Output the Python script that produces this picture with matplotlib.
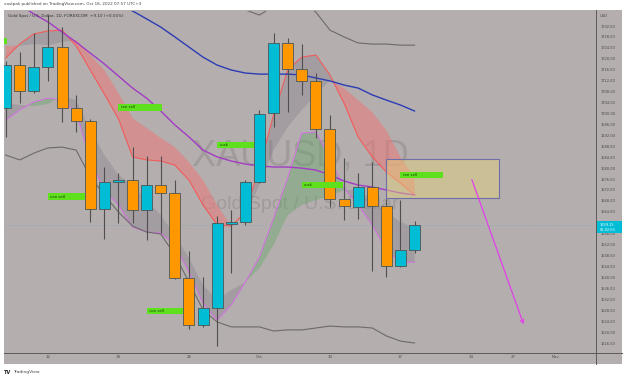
import matplotlib
matplotlib.use("Agg")
import matplotlib.pyplot as plt
import numpy as np
from matplotlib.patches import Rectangle
from matplotlib.lines import Line2D

# ---------------- data ----------------
bar_idx = np.arange(-3, 27)   # 0 = Sep 12, 2022 (daily bars)
opens = [1702.0, 1717.7, 1708.2, 1717.0, 1724.3, 1702.0, 1697.2, 1665.0, 1674.9, 1675.6,
         1664.7, 1673.8, 1670.9, 1639.8, 1622.6, 1628.8, 1659.6, 1660.3, 1674.9, 1700.2,
         1725.8, 1716.3, 1711.9, 1694.3, 1668.7, 1665.8, 1673.1, 1666.1, 1644.2, 1650.05]
closes = [1717.7, 1708.2, 1717.0, 1724.3, 1702.0, 1697.2, 1665.0, 1674.9, 1675.6, 1664.7,
          1673.8, 1670.9, 1639.8, 1622.6, 1628.8, 1659.9, 1660.3, 1674.9, 1699.8, 1725.8,
          1716.3, 1711.9, 1694.3, 1668.7, 1666.1, 1673.1, 1666.1, 1644.2, 1650.05, 1659.15]
highs = [1719.2, 1722.5, 1729.4, 1736.0, 1731.6, 1706.8, 1698.0, 1680.4, 1678.2, 1687.7,
         1684.4, 1684.4, 1675.6, 1649.7, 1640.2, 1662.5, 1664.7, 1675.6, 1701.3, 1729.4,
         1727.6, 1725.4, 1714.8, 1699.4, 1683.7, 1678.2, 1682.2, 1668.7, 1668.3, 1660.6]
lows = [1691.4, 1703.8, 1707.5, 1711.9, 1696.9, 1693.2, 1660.3, 1654.1, 1659.9, 1659.9,
        1653.7, 1656.3, 1639.3, 1621.1, 1621.8, 1614.9, 1641.6, 1659.2, 1674.4, 1695.0,
        1700.5, 1706.8, 1691.0, 1665.8, 1661.0, 1661.4, 1642.4, 1640.2, 1643.8, 1648.9]

blue_ma = [1763.5, 1760.5, 1757.6, 1754.7, 1751.8, 1748.8, 1745.9, 1743.0, 1740.0, 1737.5,
           1734.6, 1731.6, 1728.0, 1724.3, 1720.6, 1717.7, 1715.9, 1714.8, 1714.4, 1714.4,
           1714.4, 1714.1, 1713.0, 1711.9, 1710.4, 1709.3, 1706.8, 1704.9, 1703.1, 1700.9]
purple_ma = [1743.3, 1739.7, 1736.4, 1733.5, 1729.8, 1726.1, 1722.1, 1718.1, 1713.7, 1709.3,
             1705.6, 1700.9, 1695.8, 1691.4, 1686.6, 1684.1, 1682.6, 1681.5, 1680.8, 1680.4,
             1680.4, 1680.0, 1679.3, 1677.5, 1675.3, 1673.8, 1673.1, 1672.0, 1670.9, 1670.2]
bb_upper = [1755, 1754, 1752, 1752, 1751, 1750, 1752, 1752, 1750, 1748,
            1746, 1745, 1744, 1744, 1743, 1741, 1739, 1737.9, 1736.0, 1739.3,
            1741.5, 1740.8, 1737.1, 1730.5, 1728.0, 1725.8, 1725.4, 1725.4, 1725.0, 1725.0]
bb_lower = [1684.8, 1683.0, 1685.5, 1687.4, 1687.7, 1686.6, 1676.7, 1670.2, 1663.9, 1658.8,
            1656.6, 1655.9, 1648.2, 1638.3, 1628.1, 1623.7, 1621.9, 1621.9, 1621.9, 1620.4,
            1620.8, 1620.8, 1621.5, 1622.2, 1621.9, 1621.9, 1621.5, 1618.6, 1616.7, 1616.0]
red_line = [1720.3, 1725.5, 1729.1, 1730.2, 1730.5, 1724.7, 1715.9, 1707.1, 1698.0, 1684.1,
            1683.0, 1682.6, 1681.1, 1675.6, 1666.5, 1659.2, 1658.8, 1663.9, 1680.4, 1699.4,
            1715.9, 1720.6, 1721.4, 1714.1, 1703.8, 1691.4, 1684.1, 1678.6, 1674.5, 1670.2]
cloud_u = [1724.7, 1724.8, 1725.4, 1725.0, 1726.1, 1726.9, 1721.4, 1715.9, 1707.5, 1698.3,
           1694.7, 1691.0, 1687.7, 1682.2, 1675.6, 1666.5, 1658.8, 1662.8, 1673.8, 1686.6,
           1695.0, 1701.3, 1706.8, 1712.2, 1709.3, 1704.9, 1700.5, 1693.9, 1684.1, 1676.4]
cloud_p = [1697.6, 1701.3, 1704.2, 1705.6, 1704.9, 1700.5, 1683.0, 1672.0, 1666.5, 1658.4,
           1656.6, 1656.3, 1651.9, 1642.0, 1630.6, 1624.4, 1629.9, 1638.3, 1647.5, 1661.7,
           1676.4, 1692.8, 1693.2, 1683.7, 1672.7, 1666.5, 1659.2, 1650.0, 1645.6, 1645.6]
cloud_g = [1703.8, 1703.1, 1702.7, 1703.5, 1706.4, 1704.9, 1693.9, 1684.8, 1677.5, 1673.8,
           1668.3, 1662.8, 1655.5, 1647.1, 1637.2, 1631.7, 1635.4, 1638.3, 1643.4, 1651.9,
           1662.8, 1666.5, 1668.3, 1669.8, 1672.0, 1672.0, 1668.3, 1663.9, 1660.3, 1658.1]

label_texts = ["", "con sell", "ree sell", "con sell", "cusk", "cusk", "ree sell"]
label_x = [-5.8, 0, 5, 7, 12, 18, 25]
label_y = [1726.5, 1669.6, 1702.2, 1627.7, 1688.5, 1673.8, 1677.5]
label_w = [2.9, 2.6, 3.1, 2.6, 2.6, 2.9, 3.0]

zone_x = [23.97, 31.99]
zone_y = [1669.1, 1683.3]
arrow_from = (30.0, 1676.75)
arrow_to = (33.8, 1621.9)

last_price = 1659.15
price_ticks = np.arange(1616, 1733, 4)
time_tick_pos = [0, 5, 10, 15, 20, 25, 30, 33, 36]
time_tick_lab = ["12", "19", "26", "Oct", "10", "17", "24", "27", "Nov"]

# ---------------- figure ----------------
W, H, DPI = 625, 379, 100
plt.rcParams['font.family'] = ['DejaVu Sans']
fig = plt.figure(figsize=(W / DPI, H / DPI), dpi=DPI)
fig.patch.set_facecolor("white")

def fx(px):
    return px / W

def fy(py):
    return 1 - py / H

BG = "#b4aeae"
fig.patches.append(Rectangle((fx(4), fy(364)), fx(622) - fx(4), fy(10) - fy(364),
                             transform=fig.transFigure, facecolor=BG, edgecolor="none", zorder=-5))

ax = fig.add_axes([fx(4), fy(353), fx(596) - fx(4), fy(11) - fy(353)])
ax.set_zorder(1)
ax.set_facecolor(BG)
ax.set_xlim(-3.12, 38.87)
ax.set_ylim(1612.35, 1737.5)
for s in ax.spines.values():
    s.set_visible(False)

x = bar_idx.astype(float)
o = np.array(opens); c = np.array(closes)
hi = np.array(highs); lo = np.array(lows)
R = np.array(red_line); U = np.array(cloud_u)
P = np.array(cloud_p); G = np.array(cloud_g)

# watermark
ax.text(0.5, 0.575, "XAUUSD, 1D", transform=ax.transAxes, ha="center", va="center",
        fontsize=26, color="#a19b9b", family="Liberation Sans", zorder=0.5)
ax.text(0.5, 0.435, "Gold Spot / U.S. Dollar", transform=ax.transAxes, ha="center", va="center",
        fontsize=14, color="#a19b9b", family="Liberation Sans", zorder=0.5)

# clouds
ax.fill_between(x, R, U, where=U >= R, interpolate=True, color="#f07474", alpha=0.5, lw=0, zorder=1)
ax.fill_between(x, R, U, where=U < R, interpolate=True, color="#7c7686", alpha=0.3, lw=0, zorder=1)
ax.fill_between(x, P, G, where=P >= G, interpolate=True, color="#58a85c", alpha=0.35, lw=0, zorder=1)
ax.fill_between(x, P, G, where=P < G, interpolate=True, color="#7c7686", alpha=0.3, lw=0, zorder=1)

ax.plot(x, R, color="#f25c5c", lw=0.8, zorder=2)
ax.plot(x, P, color="#d46ee4", lw=0.7, zorder=2)
ax.plot(x, bb_upper, color="#6e6a6a", lw=0.8, zorder=2)
ax.plot(x, bb_lower, color="#6e6a6a", lw=0.8, zorder=2)
ax.plot(x, blue_ma, color="#2c3cb4", lw=1.0, zorder=2)
ax.plot(x, purple_ma, color="#a23cc4", lw=1.0, zorder=2)

# last price line
ax.axhline(last_price, color="#8aa6b8", lw=0.5, ls=(0, (1, 1.5)), zorder=1.5)

# candles
up = c >= o
body_lo = np.minimum(o, c)
body_h = np.maximum(np.abs(c - o), 0.6)
ax.vlines(x, lo, hi, color="#4f4f4f", lw=0.8, zorder=3)
ax.bar(x, body_h, bottom=body_lo, width=0.78,
       color=np.where(up, "#00bcd4", "#ff9800"), edgecolor="#4d5656", linewidth=0.6, zorder=4)

# labels
for t, lx, ly, lw_ in zip(label_texts, label_x, label_y, label_w):
    ax.add_patch(Rectangle((lx, ly - 1.15), lw_, 2.3, facecolor="#5ee01c", edgecolor="none", zorder=5))
    if t:
        ax.text(lx + 0.15, ly, t, fontsize=2.8, color="#1a3a10", va="center", ha="left", zorder=6)

# zone + arrow
ax.add_patch(Rectangle((zone_x[0], zone_y[0]), zone_x[1] - zone_x[0], zone_y[1] - zone_y[0],
                       facecolor="#e8d47a", alpha=0.45, edgecolor="none", zorder=4.5))
ax.add_patch(Rectangle((zone_x[0], zone_y[0]), zone_x[1] - zone_x[0], zone_y[1] - zone_y[0],
                       facecolor="none", edgecolor="#6e6ea8", lw=0.8, zorder=4.6))
ax.annotate("", xy=arrow_to, xytext=arrow_from,
            arrowprops=dict(arrowstyle="->", color="#e040e8", lw=0.9, mutation_scale=6), zorder=7)

# axes ticks
ax.yaxis.tick_right()
ax.set_yticks(price_ticks)
ax.set_yticklabels([f"{v:.2f}" for v in price_ticks])
ax.set_xticks(time_tick_pos)
ax.set_xticklabels(time_tick_lab)
ax.tick_params(axis="y", length=0, labelsize=2.6, colors="#4a4a4a", pad=3)
ax.tick_params(axis="x", length=0, labelsize=2.8, colors="#4a4a4a", pad=1.5)

# frame lines
fig.add_artist(Line2D([fx(596), fx(596)], [fy(10), fy(364)], color="#5a5a5a", lw=0.7, zorder=3))
fig.add_artist(Line2D([fx(4), fx(622)], [fy(353), fy(353)], color="#5a5a5a", lw=0.7, zorder=3))

# price label box
fig.patches.append(Rectangle((fx(597), fy(233)), fx(622) - fx(597), fy(221) - fy(233),
                             transform=fig.transFigure, facecolor="#00bcd4", edgecolor="none", zorder=4))
fig.text(fx(600), fy(224.5), f"{last_price:.2f}", fontsize=2.5, color="white", va="center", ha="left", zorder=5)
fig.text(fx(600), fy(229.5), "06:02:03", fontsize=2.5, color="white", va="center", ha="left", zorder=5)
fig.text(fx(600), fy(16), "USD", fontsize=2.6, color="#4a4a4a", va="center", ha="left", zorder=5)

# header texts
fig.text(fx(4), fy(4.5), "vastpak published on TradingView.com, Oct 18, 2022 07:57 UTC+3",
         fontsize=3.0, color="#444444", va="center", ha="left")
fig.text(fx(8), fy(16.5), "Gold Spot / U.S. Dollar, 1D, FOREXCOM  +9.10 (+0.55%)",
         fontsize=3.0, color="#333333", va="center", ha="left", zorder=5)
fig.text(fx(4), fy(372), "TV", fontsize=3.6, color="#222222", weight="bold", va="center", ha="left")
fig.text(fx(13), fy(372), "TradingView", fontsize=3.2, color="#444444", va="center", ha="left")

fig.savefig("out.png", dpi=DPI, facecolor="white")
